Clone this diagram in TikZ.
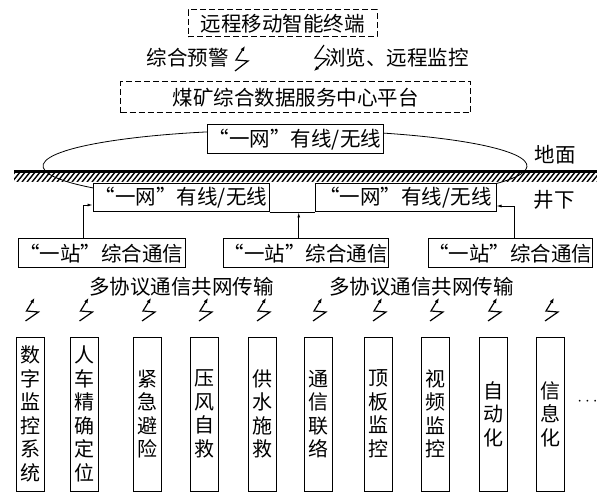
\documentclass[tikz,border=0pt]{standalone}
\usepackage{fontspec}
\setmainfont{Noto Sans CJK SC}
\newfontfamily\qfont[RawFeature=+fwid]{Noto Sans CJK SC}
\newcommand\oq{{\qfont “}}
\newcommand\cq{{\qfont ”}}
\usetikzlibrary{arrows.meta,calc}
\tikzset{
  box/.style={draw, line width=1pt, fill=white, inner sep=0pt},
  dbox/.style={box, dash pattern=on 6pt off 3pt},
  vbox/.style={box, minimum width=28pt, minimum height=154pt, align=center, font=\fontsize{20}{23.5}\selectfont},
  lbl/.style={inner sep=0pt},
  arr/.style={line width=0.8pt, -{Latex[length=5pt,width=3pt]}},
  bolt/.style={line width=1.2pt, line join=miter, -{Latex[length=5pt,width=4pt]}},
}
\begin{document}
\begin{tikzpicture}[x=1pt,y=-1pt,font=\fontsize{20.5}{24}\selectfont]
\useasboundingbox (0,0) rectangle (597,494);
% ground
\begin{scope}
\clip (14,171) rectangle (597,181.5);
\foreach \x in {2,7,...,606} \draw[line width=1.4pt] (\x,182) -- (\x+9,171);
\end{scope}
\draw[line width=2.6pt] (14,171.8) -- (597,171.8);
% ellipse (network ring)
\draw[line width=0.8pt] (285,166) ++(138:242 and 36) arc[start angle=138, end angle=395, x radius=242, y radius=36];
% top
\node[dbox, minimum width=189pt, minimum height=27pt] (term) at (282.5,23.5) {远程移动智能终端};
\node[lbl] (warn) at (187.5,58) {综合预警};
\node[lbl, anchor=west] (browse) at (325,58) {浏览、远程监控};
\node[dbox, minimum width=350pt, minimum height=31pt] (plat) at (295.5,97.5) {煤矿综合数据服务中心平台};
% lightning top
\coordinate (wl) at (235,71);
\draw[bolt] (wl) -- ++(13,-10) -- ++(-12,-1) -- ++(9,-14);
\coordinate (bl) at (324,45);
\draw[bolt] (bl) -- ++(-9,13) -- ++(12,1) -- ++(-13,12);
% network boxes
\node[box, minimum width=176pt, minimum height=29pt] (n0) at (295,139.5) {\oq 一网\cq 有线/无线};
\node[box, minimum width=176pt, minimum height=28pt] (n1) at (181,198) {\oq 一网\cq 有线/无线};
\node[box, minimum width=181pt, minimum height=28pt] (n2) at (405.5,198) {\oq 一网\cq 有线/无线};
\node[lbl] (ground) at (555,155) {地面};
\node[lbl] (under) at (554,200) {井下};
% stations
\node[box, minimum width=167pt, minimum height=29pt] (s1) at (101.5,253.5) {\oq 一站\cq 综合通信};
\node[box, minimum width=165pt, minimum height=29pt] (s2) at (305.5,253.5) {\oq 一站\cq 综合通信};
\node[box, minimum width=164pt, minimum height=29pt] (s3) at (510,253.5) {\oq 一站\cq 综合通信};
% connectors
\draw[line width=0.8pt] (n1.south east) -- (n2.south west);
\coordinate (j) at ($(n1.south east)!0.65!(n2.south west)$);
\draw[arr] (s2.north -| j) -- (j);
\draw[arr] ([xshift=-18.5pt]s1.north) |- ([yshift=-7pt]n1.west);
\draw[arr] ([xshift=4pt]s3.north) |- ([yshift=-8pt]n2.east);
\node[lbl] (m1) at (181.5,287) {多协议通信共网传输};
\node[lbl] (m2) at (421.5,287) {多协议通信共网传输};
% vertical boxes
\foreach \c/\t [count=\i] in {30.5/数\\字\\监\\控\\系\\统, 84.5/人\\车\\精\\确\\定\\位, 147/紧\\急\\避\\险, 204/压\\风\\自\\救, 262/供\\水\\施\\救, 318/通\\信\\联\\络, 378/顶\\板\\监\\控, 435/视\\频\\监\\控, 493/自\\动\\化, 550/信\\息\\化}{
  \node[vbox] (v\i) at (\c,414) {\t};
  \coordinate (b\i) at (\c-5,321);
  \draw[bolt] (b\i) -- ++(13,-9) -- ++(-12,-1) -- ++(8,-13);
}
\node[lbl] (more) at (587.5,402) {\fontsize{16}{16}\selectfont$\cdots$};
\end{tikzpicture}
\end{document}
